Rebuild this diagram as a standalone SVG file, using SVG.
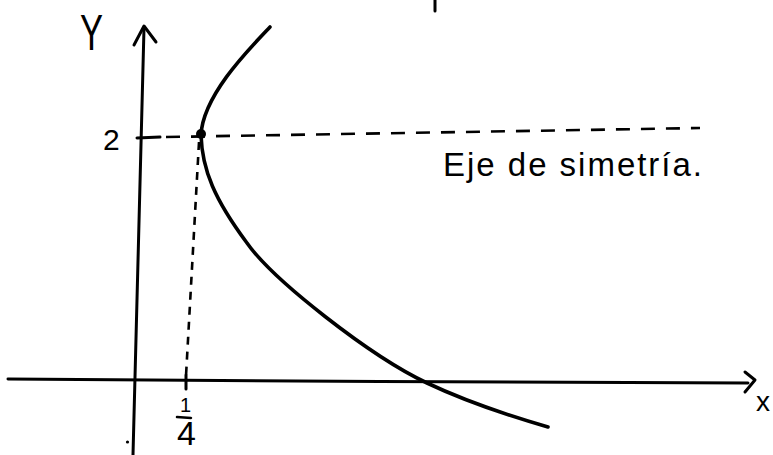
<svg xmlns="http://www.w3.org/2000/svg" width="773" height="455" viewBox="0 0 773 455">
  <style>
    .ink { fill: none; stroke: #000; stroke-linecap: round; stroke-linejoin: round; }
    .axis { stroke-width: 3; }
    .dash { stroke-width: 2.6; stroke-linecap: butt; }
    .lbl { font-family: "Liberation Sans", "DejaVu Sans", sans-serif; fill: #000; }
  </style>
  <rect width="773" height="455" fill="#fff"/>
  <g id="axes">
    <path class="ink axis" d="M8,379 L380,381.5 L748,383"/>
    <path class="ink axis" d="M745,372 L755,380 L745,392"/>
    <path class="ink axis" d="M144,28 L133,455"/>
    <path class="ink axis" d="M134,45 L144,26 L156,42"/>
    <path class="ink axis" d="M186,375 L186,389"/>
    <path class="ink" stroke-width="3" d="M435,0 L435,11"/>
    <circle cx="127.5" cy="442" r="1.6" fill="#000"/>
  </g>
  <g id="guides">
    <path class="ink axis" d="M137,138 L160,137"/>
    <path class="ink dash" stroke-dasharray="14 11" d="M166,137 L700,128"/>
    <path class="ink dash" stroke-dasharray="8 7" d="M199,142 L186,376"/>
  </g>
  <g id="parabola">
    <path class="ink" stroke-width="3.6" d="M270,27 C250,48 203,95 201,135 C202,170 215,200 247,243 C273,280 370,356 427,383 C465,401 510,416 548,427"/>
    <circle cx="201" cy="134" r="5" fill="#000"/>
  </g>
  <g id="labels">
    <text class="lbl" x="80" y="50" font-size="50" textLength="23" lengthAdjust="spacingAndGlyphs">Y</text>
    <text class="lbl" x="103" y="150" font-size="30">2</text>
    <text class="lbl" x="756" y="411" font-size="28">x</text>
    <text class="lbl" x="180" y="412" font-size="20">1</text>
    <path class="ink" stroke-width="2.5" d="M177,417 L191,418"/>
    <text class="lbl" x="177" y="445" font-size="34">4</text>
    <text class="lbl" x="443" y="176" font-size="33" textLength="259" lengthAdjust="spacing">Eje de simetría.</text>
  </g>
</svg>
